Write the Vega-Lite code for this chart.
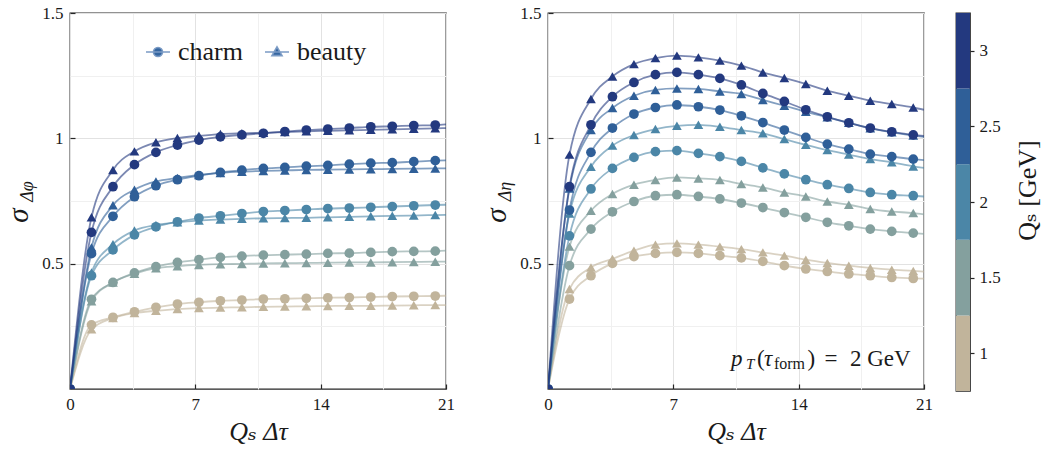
{
  "$schema": "https://vega.github.io/schema/vega-lite/v6.json",
  "background": "white",
  "padding": {"left": 3, "top": 3, "right": 5, "bottom": 5},
  "bounds": "flush",
  "spacing": 32,
  "datasets": {
    "curves": [
      {"panel": "dphi", "flavor": "beauty", "Qs": 1, "t": [0,1.2,2.4,3.6,4.8,6,7.2,8.4,9.6,10.8,12,13.2,14.4,15.6,16.8,18,19.2,20.4,21], "sigma": [0,0.238,0.283,0.303,0.312,0.319,0.323,0.325,0.326,0.328,0.329,0.330,0.331,0.332,0.332,0.333,0.334,0.335,0.335]},
      {"panel": "dphi", "flavor": "charm", "Qs": 1, "t": [0,1.2,2.4,3.6,4.8,6,7.2,8.4,9.6,10.8,12,13.2,14.4,15.6,16.8,18,19.2,20.4,21], "sigma": [0,0.256,0.286,0.308,0.326,0.339,0.346,0.352,0.355,0.359,0.360,0.362,0.364,0.365,0.367,0.369,0.370,0.371,0.372]},
      {"panel": "dphi", "flavor": "beauty", "Qs": 1.5, "t": [0,1.2,2.4,3.6,4.8,6,7.2,8.4,9.6,10.8,12,13.2,14.4,15.6,16.8,18,19.2,20.4,21], "sigma": [0,0.350,0.425,0.460,0.482,0.490,0.495,0.498,0.499,0.501,0.502,0.503,0.504,0.505,0.505,0.506,0.507,0.508,0.508]},
      {"panel": "dphi", "flavor": "charm", "Qs": 1.5, "t": [0,1.2,2.4,3.6,4.8,6,7.2,8.4,9.6,10.8,12,13.2,14.4,15.6,16.8,18,19.2,20.4,21], "sigma": [0,0.358,0.425,0.463,0.488,0.505,0.516,0.525,0.530,0.534,0.536,0.538,0.541,0.542,0.545,0.548,0.549,0.550,0.552]},
      {"panel": "dphi", "flavor": "beauty", "Qs": 2, "t": [0,1.2,2.4,3.6,4.8,6,7.2,8.4,9.6,10.8,12,13.2,14.4,15.6,16.8,18,19.2,20.4,21], "sigma": [0,0.465,0.578,0.632,0.654,0.665,0.672,0.676,0.679,0.681,0.682,0.683,0.685,0.687,0.689,0.691,0.692,0.694,0.695]},
      {"panel": "dphi", "flavor": "charm", "Qs": 2, "t": [0,1.2,2.4,3.6,4.8,6,7.2,8.4,9.6,10.8,12,13.2,14.4,15.6,16.8,18,19.2,20.4,21], "sigma": [0,0.452,0.555,0.615,0.647,0.667,0.682,0.691,0.700,0.708,0.712,0.716,0.720,0.722,0.725,0.728,0.731,0.734,0.735]},
      {"panel": "dphi", "flavor": "beauty", "Qs": 2.5, "t": [0,1.2,2.4,3.6,4.8,6,7.2,8.4,9.6,10.8,12,13.2,14.4,15.6,16.8,18,19.2,20.4,21], "sigma": [0,0.565,0.733,0.795,0.828,0.842,0.854,0.862,0.867,0.870,0.872,0.874,0.875,0.876,0.877,0.878,0.879,0.880,0.880]},
      {"panel": "dphi", "flavor": "charm", "Qs": 2.5, "t": [0,1.2,2.4,3.6,4.8,6,7.2,8.4,9.6,10.8,12,13.2,14.4,15.6,16.8,18,19.2,20.4,21], "sigma": [0,0.540,0.689,0.767,0.811,0.835,0.851,0.864,0.873,0.880,0.884,0.889,0.892,0.897,0.901,0.903,0.907,0.911,0.912]},
      {"panel": "dphi", "flavor": "beauty", "Qs": 3, "t": [0,1.2,2.4,3.6,4.8,6,7.2,8.4,9.6,10.8,12,13.2,14.4,15.6,16.8,18,19.2,20.4,21], "sigma": [0,0.685,0.874,0.948,0.984,1.001,1.010,1.017,1.020,1.022,1.025,1.028,1.030,1.032,1.034,1.036,1.038,1.040,1.041]},
      {"panel": "dphi", "flavor": "charm", "Qs": 3, "t": [0,1.2,2.4,3.6,4.8,6,7.2,8.4,9.6,10.8,12,13.2,14.4,15.6,16.8,18,19.2,20.4,21], "sigma": [0,0.625,0.807,0.895,0.944,0.973,0.993,1.006,1.014,1.020,1.027,1.033,1.037,1.041,1.046,1.048,1.051,1.053,1.056]},
      {"panel": "deta", "flavor": "beauty", "Qs": 1, "t": [0,1.2,2.4,3.6,4.8,6,7.2,8.4,9.6,10.8,12,13.2,14.4,15.6,16.8,18,19.2,20.4,21], "sigma": [0,0.399,0.485,0.519,0.552,0.576,0.581,0.576,0.568,0.558,0.545,0.532,0.516,0.503,0.492,0.483,0.476,0.471,0.468]},
      {"panel": "deta", "flavor": "charm", "Qs": 1, "t": [0,1.2,2.4,3.6,4.8,6,7.2,8.4,9.6,10.8,12,13.2,14.4,15.6,16.8,18,19.2,20.4,21], "sigma": [0,0.359,0.452,0.501,0.528,0.541,0.545,0.541,0.532,0.523,0.509,0.492,0.479,0.469,0.459,0.452,0.445,0.441,0.440]},
      {"panel": "deta", "flavor": "beauty", "Qs": 1.5, "t": [0,1.2,2.4,3.6,4.8,6,7.2,8.4,9.6,10.8,12,13.2,14.4,15.6,16.8,18,19.2,20.4,21], "sigma": [0,0.568,0.711,0.778,0.815,0.834,0.844,0.840,0.834,0.818,0.804,0.784,0.768,0.748,0.735,0.718,0.708,0.702,0.697]},
      {"panel": "deta", "flavor": "charm", "Qs": 1.5, "t": [0,1.2,2.4,3.6,4.8,6,7.2,8.4,9.6,10.8,12,13.2,14.4,15.6,16.8,18,19.2,20.4,21], "sigma": [0,0.492,0.638,0.707,0.748,0.771,0.775,0.768,0.758,0.742,0.724,0.704,0.685,0.665,0.651,0.638,0.629,0.622,0.619]},
      {"panel": "deta", "flavor": "beauty", "Qs": 2, "t": [0,1.2,2.4,3.6,4.8,6,7.2,8.4,9.6,10.8,12,13.2,14.4,15.6,16.8,18,19.2,20.4,21], "sigma": [0,0.700,0.887,0.971,1.013,1.037,1.050,1.054,1.046,1.033,1.020,0.997,0.974,0.953,0.935,0.917,0.904,0.888,0.882]},
      {"panel": "deta", "flavor": "charm", "Qs": 2, "t": [0,1.2,2.4,3.6,4.8,6,7.2,8.4,9.6,10.8,12,13.2,14.4,15.6,16.8,18,19.2,20.4,21], "sigma": [0,0.611,0.798,0.880,0.924,0.947,0.951,0.940,0.927,0.908,0.882,0.858,0.835,0.815,0.800,0.784,0.775,0.771,0.768]},
      {"panel": "deta", "flavor": "beauty", "Qs": 2.5, "t": [0,1.2,2.4,3.6,4.8,6,7.2,8.4,9.6,10.8,12,13.2,14.4,15.6,16.8,18,19.2,20.4,21], "sigma": [0,0.800,1.033,1.121,1.170,1.193,1.199,1.197,1.187,1.177,1.153,1.130,1.106,1.084,1.062,1.040,1.024,1.011,1.006]},
      {"panel": "deta", "flavor": "charm", "Qs": 2.5, "t": [0,1.2,2.4,3.6,4.8,6,7.2,8.4,9.6,10.8,12,13.2,14.4,15.6,16.8,18,19.2,20.4,21], "sigma": [0,0.714,0.944,1.041,1.097,1.123,1.133,1.126,1.113,1.090,1.063,1.033,1.004,0.977,0.957,0.937,0.927,0.917,0.913]},
      {"panel": "deta", "flavor": "beauty", "Qs": 3, "t": [0,1.2,2.4,3.6,4.8,6,7.2,8.4,9.6,10.8,12,13.2,14.4,15.6,16.8,18,19.2,20.4,21], "sigma": [0,0.935,1.157,1.247,1.296,1.320,1.330,1.323,1.310,1.290,1.263,1.241,1.217,1.190,1.170,1.150,1.137,1.123,1.114]},
      {"panel": "deta", "flavor": "charm", "Qs": 3, "t": [0,1.2,2.4,3.6,4.8,6,7.2,8.4,9.6,10.8,12,13.2,14.4,15.6,16.8,18,19.2,20.4,21], "sigma": [0,0.807,1.054,1.166,1.223,1.254,1.263,1.254,1.239,1.213,1.179,1.147,1.114,1.086,1.062,1.041,1.026,1.014,1.010]}
    ],
    "bins": [
      {"Qs": 1, "lo": 0.75, "hi": 1.25},
      {"Qs": 1.5, "lo": 1.25, "hi": 1.75},
      {"Qs": 2, "lo": 1.75, "hi": 2.25},
      {"Qs": 2.5, "lo": 2.25, "hi": 2.75},
      {"Qs": 3, "lo": 2.75, "hi": 3.25}
    ]
  },
  "config": {
    "font": "Liberation Serif, DejaVu Serif, serif",
    "view": {"stroke": "#262626", "strokeWidth": 1.3},
    "axis": {
      "labelFont": "Liberation Serif, DejaVu Serif, serif",
      "labelFontSize": 17,
      "labelColor": "#1a1a1a",
      "titleFont": "Liberation Serif, DejaVu Serif, serif",
      "titleColor": "#1a1a1a",
      "titleFontWeight": "normal",
      "tickColor": "#262626",
      "tickWidth": 1.2,
      "domain": false,
      "labelFlush": false,
      "labelOverlap": false
    }
  },
  "resolve": {
    "scale": {"x": "independent", "y": "independent", "shape": "independent"},
    "legend": {"shape": "independent"}
  },
  "hconcat": [
    {
      "width": 376,
      "height": 376,
      "resolve": {"axis": {"x": "independent", "y": "independent"}, "scale": {"shape": "independent"}, "legend": {"shape": "independent"}},
      "layer": [
        {
          "data": {"name": "curves"},
          "transform": [{"filter": "datum.panel === 'dphi'"}, {"flatten": ["t", "sigma"]}],
          "mark": {"type": "line", "interpolate": "monotone", "strokeWidth": 1.8, "opacity": 0.6, "clip": true},
          "encoding": {
            "x": {"field": "t", "type": "quantitative", "scale": {"domain": [0, 21], "nice": false, "zero": false},
              "axis": {"values": [0, 7, 14, 21], "format": "d", "tickSize": -5, "labelPadding": 12, "grid": true, "gridColor": "#e2e2e2",
                "title": "Qₛ Δτ", "titleFontSize": 26, "titleFontStyle": "italic", "titleBaseline": "alphabetic", "titleY": 50}},
            "y": {"field": "sigma", "type": "quantitative", "scale": {"domain": [0, 1.5], "nice": false},
              "axis": {"values": [0.5, 1, 1.5], "format": "~g", "tickSize": -5, "labelPadding": 12, "grid": true, "gridColor": "#e2e2e2",
                "title": "σ", "titleFontSize": 29, "titleFontStyle": "italic", "titleAngle": -90, "titleAlign": "center", "titleBaseline": "alphabetic", "titleX": -43, "titleY": 202}},
            "color": {"field": "Qs", "type": "ordinal", "scale": {"domain": [1, 1.5, 2, 2.5, 3], "range": ["#c1b49b", "#84a09e", "#4b86a7", "#2f5f98", "#23397f"]}, "legend": null},
            "detail": {"field": "flavor"}
          }
        },
        {
          "data": {"name": "curves"},
          "transform": [{"filter": "datum.panel === 'dphi'"}, {"flatten": ["t", "sigma"]}, {"filter": "datum.t < 21"}],
          "mark": {"type": "point", "filled": true, "opacity": 1, "size": 95, "clip": true},
          "encoding": {
            "x": {"field": "t", "type": "quantitative",
              "axis": {"orient": "bottom", "values": [3.5, 10.5, 17.5], "grid": true, "gridColor": "#f0f0f0", "ticks": false, "labels": false, "title": null}},
            "y": {"field": "sigma", "type": "quantitative",
              "axis": {"orient": "left", "values": [0.25, 0.75, 1.25], "grid": true, "gridColor": "#f0f0f0", "ticks": false, "labels": false,
                "title": "Δφ", "titleFontSize": 18, "titleFontStyle": "italic", "titleAngle": -90, "titleAlign": "center", "titleBaseline": "alphabetic", "titleX": -38, "titleY": 178}},
            "color": {"field": "Qs", "type": "ordinal", "legend": null},
            "shape": {"field": "flavor", "type": "nominal", "scale": {"domain": ["charm", "beauty"], "range": ["circle", "triangle-up"]}, "legend": null}
          }
        },
        {
          "data": {"values": []},
          "mark": {"type": "point", "filled": true, "fill": "#3566a0", "stroke": "#7b9bc5", "strokeWidth": 1.6},
          "encoding": {
            "shape": {"field": "flavor", "type": "nominal",
              "scale": {"domain": ["charm", "beauty"], "range": ["M-1,0H1M0.38,0A0.38,0.38,0,1,1,-0.38,0A0.38,0.38,0,1,1,0.38,0Z", "M-1,0H1M0,-0.42L0.42,0.3L-0.42,0.3Z"]},
              "legend": {
                "orient": "none", "legendX": 75, "legendY": 26, "direction": "horizontal", "columns": 2, "title": null,
                "padding": 0, "symbolSize": 576, "symbolStrokeWidth": 1.6, "symbolOpacity": 1,
                "labelFont": "Liberation Serif, DejaVu Serif, serif", "labelFontSize": 26, "labelColor": "#1a1a1a",
                "labelOffset": 7, "columnPadding": 18
              }
            }
          }
        }
      ]
    },
    {
      "width": 38,
      "height": 376,
      "view": {"stroke": null},
      "data": {"values": []},
      "mark": "point"
    },
    {
      "width": 376,
      "height": 376,
      "resolve": {"axis": {"x": "independent", "y": "independent"}},
      "layer": [
        {
          "data": {"name": "curves"},
          "transform": [{"filter": "datum.panel === 'deta'"}, {"flatten": ["t", "sigma"]}],
          "mark": {"type": "line", "interpolate": "monotone", "strokeWidth": 1.8, "opacity": 0.6, "clip": true},
          "encoding": {
            "x": {"field": "t", "type": "quantitative", "scale": {"domain": [0, 21], "nice": false, "zero": false},
              "axis": {"values": [0, 7, 14, 21], "format": "d", "tickSize": -5, "labelPadding": 12, "grid": true, "gridColor": "#e2e2e2",
                "title": "Qₛ Δτ", "titleFontSize": 26, "titleFontStyle": "italic", "titleBaseline": "alphabetic", "titleY": 50}},
            "y": {"field": "sigma", "type": "quantitative", "scale": {"domain": [0, 1.5], "nice": false},
              "axis": {"values": [0.5, 1, 1.5], "format": "~g", "tickSize": -5, "labelPadding": 12, "grid": true, "gridColor": "#e2e2e2",
                "title": "σ", "titleFontSize": 29, "titleFontStyle": "italic", "titleAngle": -90, "titleAlign": "center", "titleBaseline": "alphabetic", "titleX": -43, "titleY": 202}},
            "color": {"field": "Qs", "type": "ordinal", "legend": null},
            "detail": {"field": "flavor"}
          }
        },
        {
          "data": {"name": "curves"},
          "transform": [{"filter": "datum.panel === 'deta'"}, {"flatten": ["t", "sigma"]}, {"filter": "datum.t < 21"}],
          "mark": {"type": "point", "filled": true, "opacity": 1, "size": 95, "clip": true},
          "encoding": {
            "x": {"field": "t", "type": "quantitative",
              "axis": {"orient": "bottom", "values": [3.5, 10.5, 17.5], "grid": true, "gridColor": "#f0f0f0", "ticks": false, "labels": false, "title": null}},
            "y": {"field": "sigma", "type": "quantitative",
              "axis": {"orient": "left", "values": [0.25, 0.75, 1.25], "grid": true, "gridColor": "#f0f0f0", "ticks": false, "labels": false,
                "title": "Δη", "titleFontSize": 18, "titleFontStyle": "italic", "titleAngle": -90, "titleAlign": "center", "titleBaseline": "alphabetic", "titleX": -38, "titleY": 178}},
            "color": {"field": "Qs", "type": "ordinal", "legend": null},
            "shape": {"field": "flavor", "type": "nominal", "scale": {"domain": ["charm", "beauty"], "range": ["circle", "triangle-up"]}, "legend": null}
          }
        },
        {
          "data": {"values": [{}]},
          "mark": {"type": "text", "text": "p", "fontSize": 23, "fontStyle": "italic", "align": "left", "baseline": "alphabetic", "color": "#1a1a1a"},
          "encoding": {"x": {"datum": 10.22, "type": "quantitative", "axis": null}, "y": {"datum": 0.093, "type": "quantitative", "axis": null}}
        },
        {
          "data": {"values": [{}]},
          "mark": {"type": "text", "text": "T", "fontSize": 15, "fontStyle": "italic", "align": "left", "baseline": "alphabetic", "color": "#1a1a1a"},
          "encoding": {"x": {"datum": 11.06, "type": "quantitative", "axis": null}, "y": {"datum": 0.078, "type": "quantitative", "axis": null}}
        },
        {
          "data": {"values": [{}]},
          "mark": {"type": "text", "text": "(", "fontSize": 23, "align": "left", "baseline": "alphabetic", "color": "#1a1a1a"},
          "encoding": {"x": {"datum": 11.67, "type": "quantitative", "axis": null}, "y": {"datum": 0.093, "type": "quantitative", "axis": null}}
        },
        {
          "data": {"values": [{}]},
          "mark": {"type": "text", "text": "τ", "fontSize": 23, "fontStyle": "italic", "align": "left", "baseline": "alphabetic", "color": "#1a1a1a"},
          "encoding": {"x": {"datum": 12.06, "type": "quantitative", "axis": null}, "y": {"datum": 0.093, "type": "quantitative", "axis": null}}
        },
        {
          "data": {"values": [{}]},
          "mark": {"type": "text", "text": "form", "fontSize": 16, "align": "left", "baseline": "alphabetic", "color": "#1a1a1a"},
          "encoding": {"x": {"datum": 12.62, "type": "quantitative", "axis": null}, "y": {"datum": 0.078, "type": "quantitative", "axis": null}}
        },
        {
          "data": {"values": [{}]},
          "mark": {"type": "text", "text": ")", "fontSize": 23, "align": "left", "baseline": "alphabetic", "color": "#1a1a1a"},
          "encoding": {"x": {"datum": 14.5, "type": "quantitative", "axis": null}, "y": {"datum": 0.093, "type": "quantitative", "axis": null}}
        },
        {
          "data": {"values": [{}]},
          "mark": {"type": "text", "text": "=", "fontSize": 23, "align": "center", "baseline": "alphabetic", "color": "#1a1a1a"},
          "encoding": {"x": {"datum": 15.8, "type": "quantitative", "axis": null}, "y": {"datum": 0.093, "type": "quantitative", "axis": null}}
        },
        {
          "data": {"values": [{}]},
          "mark": {"type": "text", "text": "2 GeV", "fontSize": 23, "align": "right", "baseline": "alphabetic", "color": "#1a1a1a"},
          "encoding": {"x": {"datum": 20.25, "type": "quantitative", "axis": null}, "y": {"datum": 0.093, "type": "quantitative", "axis": null}}
        }
      ]
    },
    {
      "width": 14,
      "height": 378,
      "data": {"name": "bins"},
      "mark": {"type": "rect"},
      "encoding": {
        "y": {"field": "lo", "type": "quantitative", "scale": {"domain": [0.75, 3.25], "nice": false, "zero": false},
          "axis": {"orient": "right", "values": [1, 1.5, 2, 2.5, 3], "format": "~g", "tickSize": 4, "labelPadding": 5, "grid": false,
            "title": "Qₛ [GeV]", "titleFontSize": 26, "titleAngle": -90, "titleAlign": "center", "titleBaseline": "alphabetic", "titleX": 65, "titleY": 177}},
        "y2": {"field": "hi"},
        "color": {"field": "Qs", "type": "ordinal", "legend": null}
      }
    }
  ]
}
